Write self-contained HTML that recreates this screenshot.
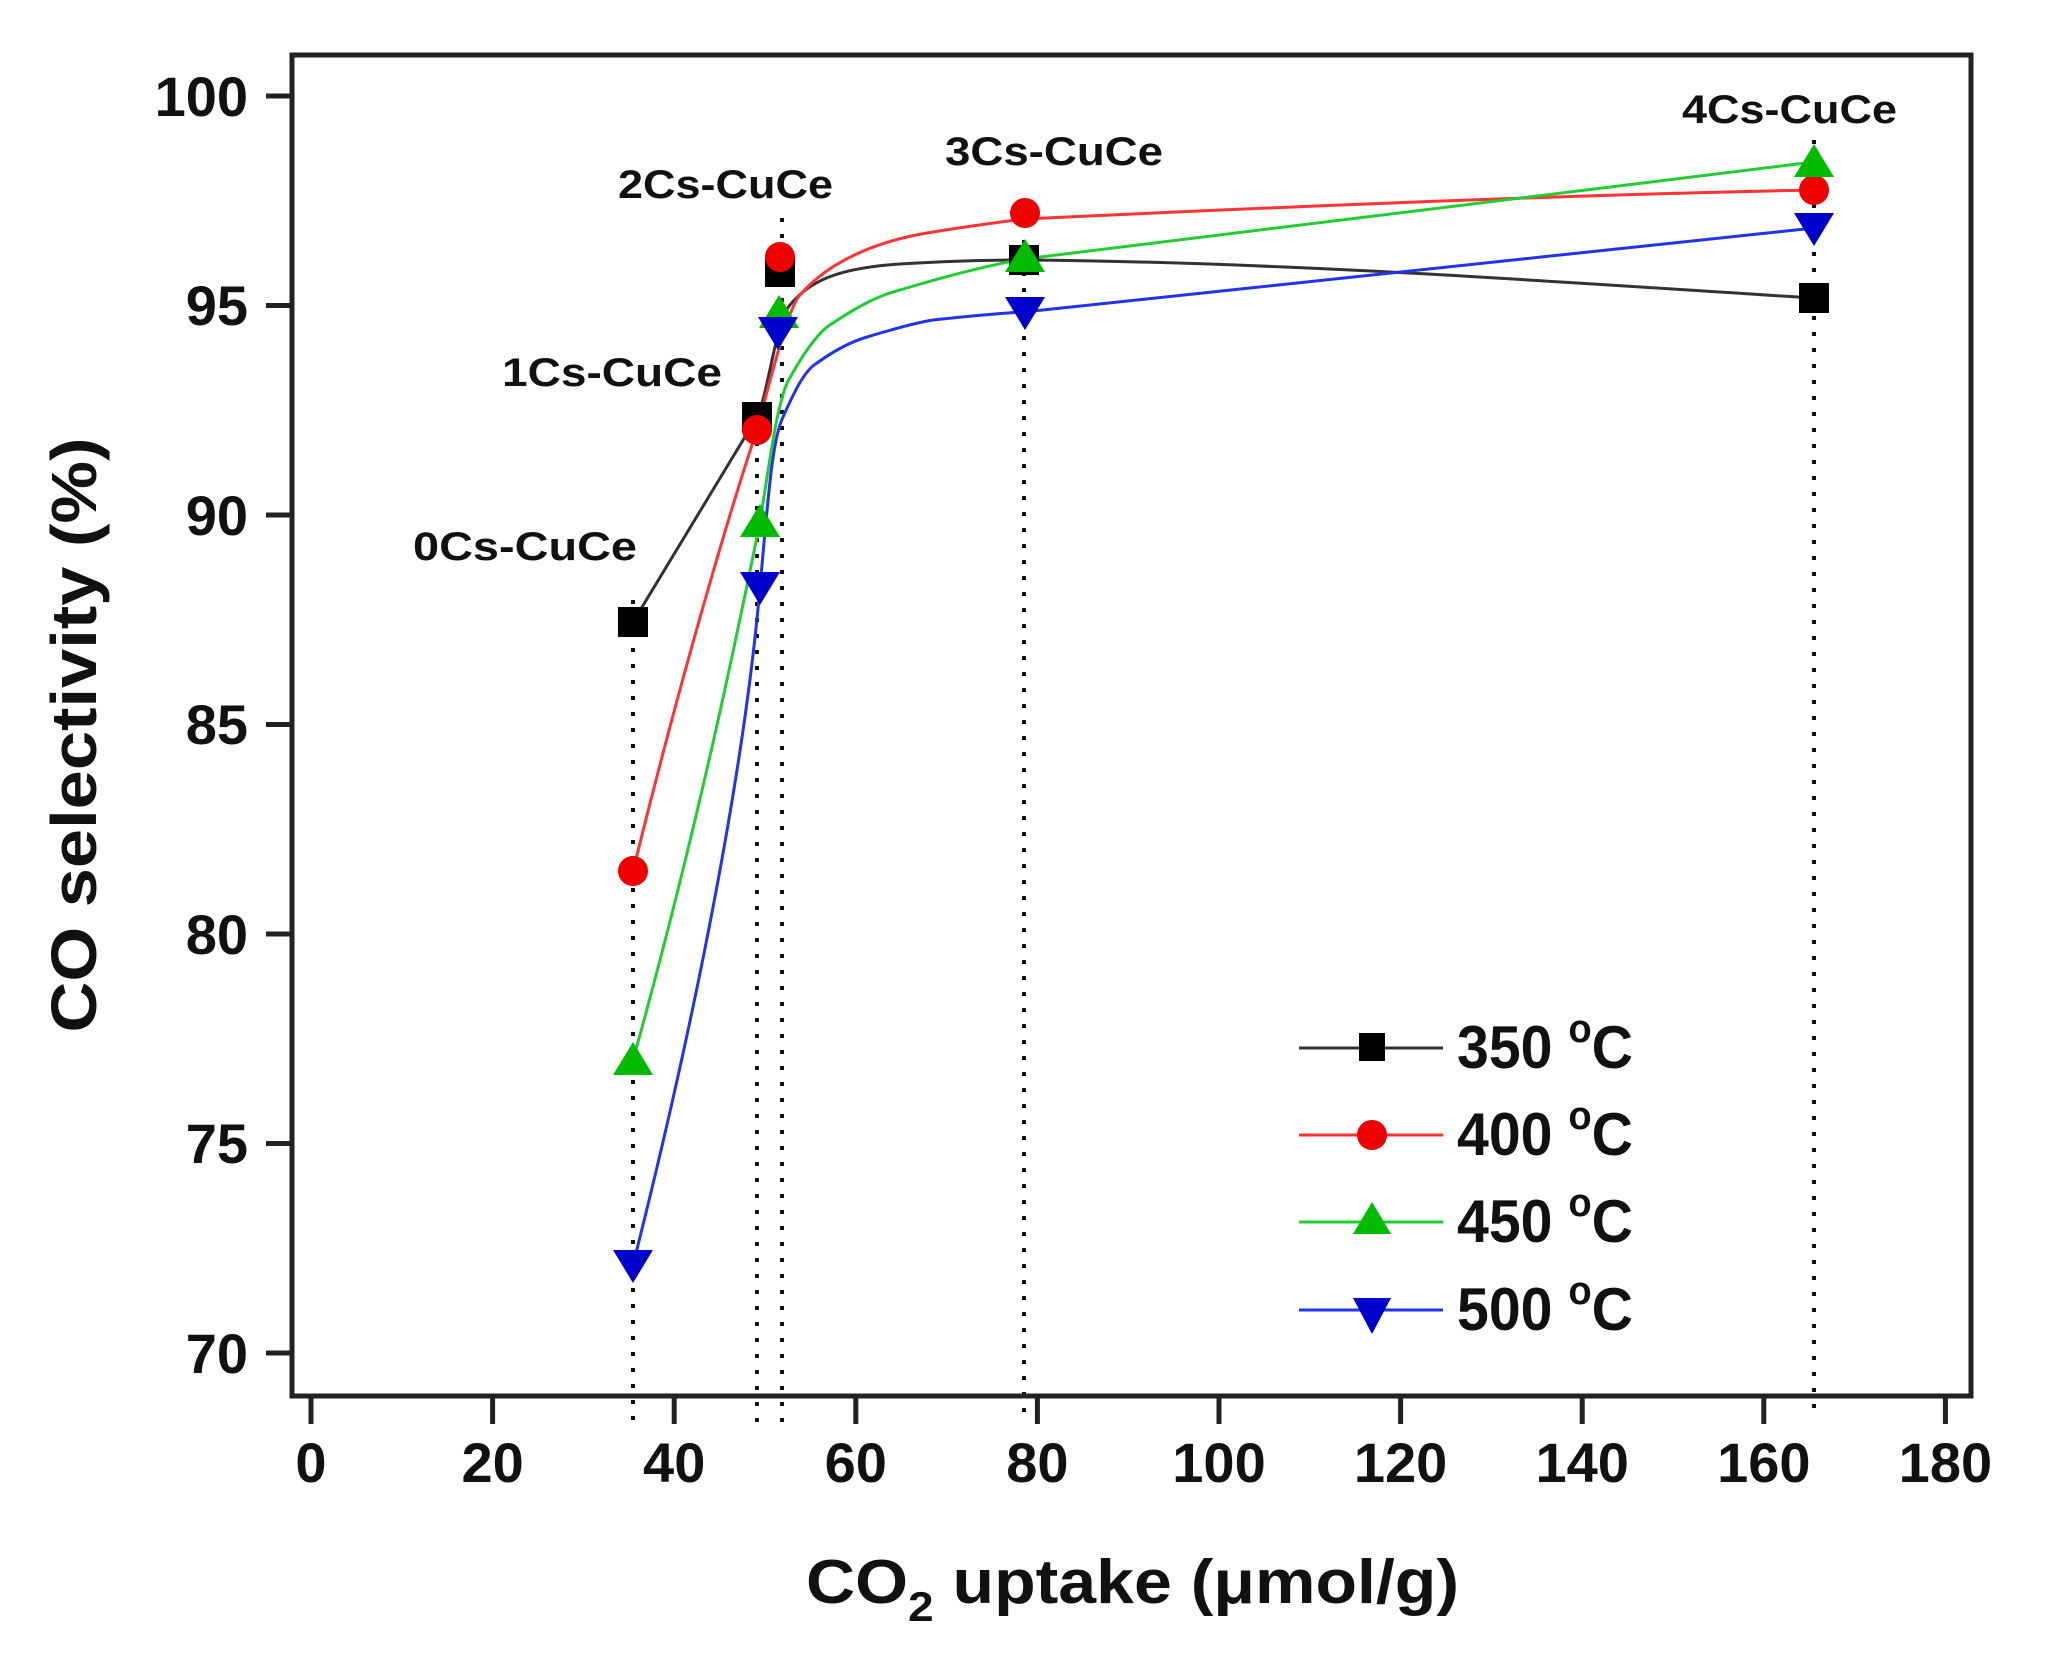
<!DOCTYPE html>
<html><head><meta charset="utf-8"><style>
html,body{margin:0;padding:0;background:#fff;}
svg{display:block;}
text{font-family:"Liberation Sans",Arial,sans-serif;font-weight:bold;fill:#111;}
</style></head><body>
<svg width="2051" height="1674" viewBox="0 0 2051 1674" xmlns="http://www.w3.org/2000/svg">
<!-- dotted verticals -->
<g stroke="#111" stroke-width="4" stroke-dasharray="4 12" fill="none">
<line x1="633" y1="600" x2="633" y2="1425"/>
<line x1="757" y1="410" x2="757" y2="1425"/>
<line x1="782" y1="218" x2="782" y2="1425"/>
<line x1="1024" y1="240" x2="1024" y2="1420"/>
<line x1="1814" y1="140" x2="1814" y2="1420"/>
</g>
<!-- curves -->
<g fill="none" stroke-width="3">
<path d="M633,622 L757,417 C768,395 776,320 790,305 C810,280 840,268 900,264 C950,261 990,260 1024,260 C1300,262 1600,285 1814,298" stroke="#333"/>
<path d="M633,871 C690,640 740,480 757,430 C775,360 790,305 800,295 C830,260 880,240 933,232 C970,226 1000,222 1024,219 C1300,206 1600,194 1814,190" stroke="#ff3333"/>
<path d="M633,1060 C700,820 740,620 760,522 C770,460 776,410 787,383 C805,350 820,330 833,323 C860,305 880,295 900,290 C950,275 990,265 1024,259 L1814,162" stroke="#22cc33"/>
<path d="M633,1265 C700,1000 745,760 760,587 C768,500 772,440 783,417 C795,390 805,370 817,363 C835,350 850,342 867,337 C900,327 920,322 933,320 C970,316 1000,313 1024,312 L1814,228" stroke="#2233ee"/>
</g>
<!-- markers -->
<g fill="#000">
<rect x="618" y="607" width="30" height="30"/>
<rect x="742" y="402" width="30" height="30"/>
<rect x="765" y="257" width="30" height="30"/>
<rect x="1009" y="245" width="30" height="30"/>
<rect x="1799" y="283" width="30" height="30"/>
</g>
<g fill="#ee0000">
<circle cx="633" cy="871" r="15"/>
<circle cx="757" cy="430" r="15"/>
<circle cx="780" cy="257" r="15"/>
<circle cx="1025" cy="213" r="15"/>
<circle cx="1814" cy="190" r="15"/>
</g>
<g fill="#00bb00">
<polygon points="633,1042 613,1075 653,1075"/>
<polygon points="760,504 740,537 780,537"/>
<polygon points="779,295 759,328 799,328"/>
<polygon points="1025,239 1005,272 1045,272"/>
<polygon points="1814,144 1794,177 1834,177"/>
</g>
<g fill="#0000cc">
<polygon points="613,1250 653,1250 633,1283"/>
<polygon points="740,572 780,572 760,605"/>
<polygon points="758,317 798,317 778,350"/>
<polygon points="1005,297 1045,297 1025,330"/>
<polygon points="1794,213 1834,213 1814,246"/>
</g>
<!-- sample labels -->
<text x="413" y="560" font-size="40" textLength="224" lengthAdjust="spacingAndGlyphs">0Cs-CuCe</text>
<text x="502" y="386" font-size="40" textLength="220" lengthAdjust="spacingAndGlyphs">1Cs-CuCe</text>
<text x="618" y="198" font-size="40" textLength="215" lengthAdjust="spacingAndGlyphs">2Cs-CuCe</text>
<text x="945" y="165" font-size="40" textLength="218" lengthAdjust="spacingAndGlyphs">3Cs-CuCe</text>
<text x="1682" y="123" font-size="40" textLength="215" lengthAdjust="spacingAndGlyphs">4Cs-CuCe</text>
<!-- frame -->
<rect x="292" y="55" width="1679" height="1341" fill="none" stroke="#222" stroke-width="5"/>
<!-- y ticks -->
<g stroke="#222" stroke-width="5">
<line x1="266" y1="96" x2="292" y2="96"/>
<line x1="266" y1="305.5" x2="292" y2="305.5"/>
<line x1="266" y1="515" x2="292" y2="515"/>
<line x1="266" y1="724.5" x2="292" y2="724.5"/>
<line x1="266" y1="934" x2="292" y2="934"/>
<line x1="266" y1="1143.5" x2="292" y2="1143.5"/>
<line x1="266" y1="1353" x2="292" y2="1353"/>
</g>
<g font-size="56" text-anchor="end">
<text x="248" y="116">100</text>
<text x="248" y="325">95</text>
<text x="248" y="535">90</text>
<text x="248" y="744">85</text>
<text x="248" y="954">80</text>
<text x="248" y="1163">75</text>
<text x="248" y="1373">70</text>
</g>
<!-- x ticks -->
<g stroke="#222" stroke-width="5">
<line x1="311" y1="1396" x2="311" y2="1424"/>
<line x1="492.6" y1="1396" x2="492.6" y2="1424"/>
<line x1="674.2" y1="1396" x2="674.2" y2="1424"/>
<line x1="855.8" y1="1396" x2="855.8" y2="1424"/>
<line x1="1037.4" y1="1396" x2="1037.4" y2="1424"/>
<line x1="1219" y1="1396" x2="1219" y2="1424"/>
<line x1="1400.6" y1="1396" x2="1400.6" y2="1424"/>
<line x1="1582.2" y1="1396" x2="1582.2" y2="1424"/>
<line x1="1763.8" y1="1396" x2="1763.8" y2="1424"/>
<line x1="1945.4" y1="1396" x2="1945.4" y2="1424"/>
</g>
<g font-size="56" text-anchor="middle">
<text x="311" y="1482">0</text>
<text x="492.6" y="1482">20</text>
<text x="674.2" y="1482">40</text>
<text x="855.8" y="1482">60</text>
<text x="1037.4" y="1482">80</text>
<text x="1219" y="1482">100</text>
<text x="1400.6" y="1482">120</text>
<text x="1582.2" y="1482">140</text>
<text x="1763.8" y="1482">160</text>
<text x="1945.4" y="1482">180</text>
</g>
<!-- axis titles -->
<text x="806" y="1603" font-size="62" textLength="653" lengthAdjust="spacingAndGlyphs">CO<tspan font-size="42" dy="18">2</tspan><tspan dy="-18"> uptake (μmol/g)</tspan></text>
<text transform="translate(96,735) rotate(-90)" font-size="64" text-anchor="middle" textLength="595" lengthAdjust="spacingAndGlyphs">CO selectivity (%)</text>
<!-- legend -->
<g stroke-width="3">
<line x1="1299" y1="1048" x2="1443" y2="1048" stroke="#333"/>
<line x1="1299" y1="1135" x2="1443" y2="1135" stroke="#ff3333"/>
<line x1="1299" y1="1222" x2="1443" y2="1222" stroke="#22cc33"/>
<line x1="1299" y1="1310" x2="1443" y2="1310" stroke="#2233ee"/>
</g>
<rect x="1359" y="1033" width="26" height="28" fill="#000"/>
<circle cx="1372" cy="1135" r="15" fill="#ee0000"/>
<polygon points="1372,1202 1353,1234 1391,1234" fill="#00bb00"/>
<polygon points="1353,1298 1391,1298 1372,1334" fill="#0000cc"/>
<g font-size="60">
<text x="1457" y="1068" textLength="176" lengthAdjust="spacingAndGlyphs">350 <tspan font-size="40" dy="-26">o</tspan><tspan dy="26">C</tspan></text>
<text x="1457" y="1155" textLength="176" lengthAdjust="spacingAndGlyphs">400 <tspan font-size="40" dy="-26">o</tspan><tspan dy="26">C</tspan></text>
<text x="1457" y="1242" textLength="176" lengthAdjust="spacingAndGlyphs">450 <tspan font-size="40" dy="-26">o</tspan><tspan dy="26">C</tspan></text>
<text x="1457" y="1330" textLength="176" lengthAdjust="spacingAndGlyphs">500 <tspan font-size="40" dy="-26">o</tspan><tspan dy="26">C</tspan></text>
</g>
</svg>
</body></html>
